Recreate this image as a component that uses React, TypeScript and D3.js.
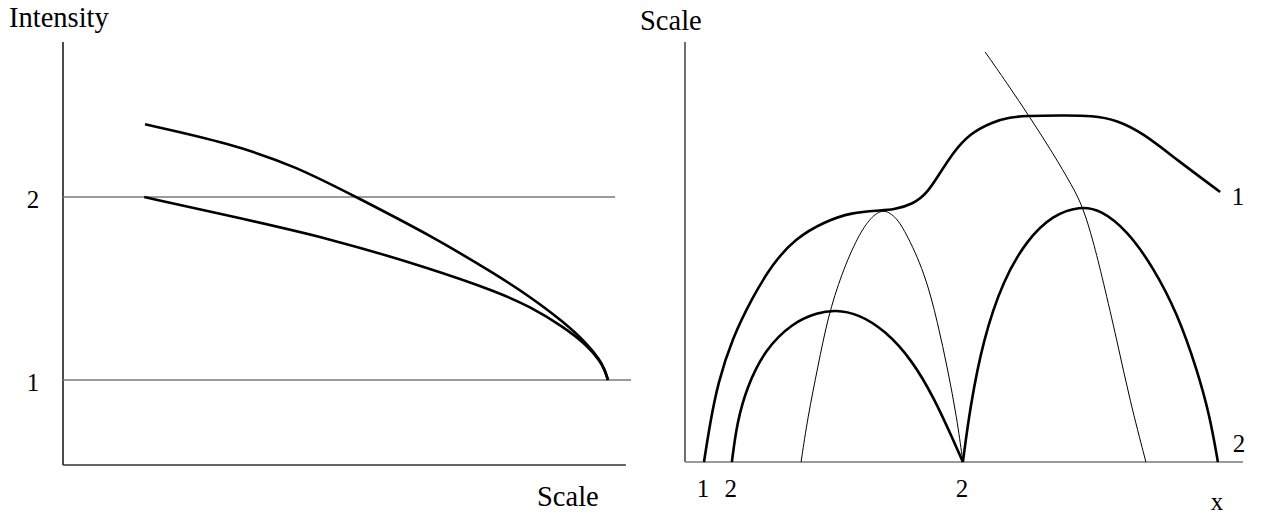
import React from "react";
import * as d3 from "d3";

const W = 1263;
const H = 516;

// ---- Left panel: intensity versus scale ----
const upperScale = [14.44, 29.4, 41.14, 51.71, 64.61, 76.36, 82.22, 88.08, 92.2, 94.54, 95.33, 95.95];
const upperIntensity = [2.397, 2.293, 2.166, 1.998, 1.792, 1.574, 1.455, 1.319, 1.201, 1.109, 1.06, 1.0];
const lowerScale = [14.3, 29.4, 47.01, 64.61, 76.36, 82.22, 88.08, 92.2, 94.54, 95.33, 95.95];
const lowerIntensity = [2.0, 1.896, 1.774, 1.61, 1.483, 1.401, 1.291, 1.191, 1.104, 1.057, 1.0];
const levelValues = [2, 1];
const levelEnds = [97.2, 100];
const levelLabels = ["2", "1"];

// ---- Right panel: scale versus x ----
const s1X = [0.34, 0.45, 0.59, 0.84, 1.2, 1.56, 1.97, 2.51, 2.99, 3.46, 3.73, 4.09, 4.34, 4.57, 4.8, 5.11, 5.52, 5.82, 6.13, 6.72, 7.31, 7.74, 8.21, 8.82, 9.59];
const s1Y = [0, 0.93, 1.88, 2.92, 3.9, 4.7, 5.32, 5.73, 5.94, 5.99, 6.0, 6.14, 6.4, 6.88, 7.36, 7.83, 8.1, 8.21, 8.24, 8.25, 8.25, 8.14, 7.83, 7.19, 6.43];

const s2aX = [0.84, 0.93, 1.11, 1.43, 1.92, 2.38, 2.69, 3.1, 3.58, 4.07, 4.48, 4.78, 4.98];
const s2aY = [0, 0.93, 1.79, 2.67, 3.31, 3.56, 3.62, 3.53, 3.14, 2.43, 1.48, 0.6, 0];
const s2bX = [4.98, 5.11, 5.34, 5.7, 6.13, 6.59, 7.08, 7.44, 7.92, 8.39, 8.82, 9.18, 9.41, 9.55];
const s2bY = [0, 1.31, 2.9, 4.33, 5.29, 5.88, 6.09, 6.01, 5.52, 4.64, 3.55, 2.19, 1.07, 0];

const thinArchX = [2.08, 2.2, 2.38, 2.56, 2.81, 3.1, 3.33, 3.55, 3.76, 3.94, 4.3, 4.53, 4.71, 4.87, 4.98];
const thinArchY = [0, 1.07, 2.26, 3.45, 4.5, 5.38, 5.83, 6.03, 5.86, 5.52, 4.5, 3.31, 2.19, 1.07, 0];
const thinFallX = [5.38, 5.77, 6.18, 6.59, 6.95, 7.13, 7.31, 7.49, 7.74, 7.97, 8.26];
const thinFallY = [9.76, 9.02, 8.21, 7.36, 6.55, 6.07, 5.29, 4.33, 2.9, 1.48, 0];

const bottomTicks = [0.34, 0.84, 4.98];
const bottomTickLabels = ["1", "2", "2"];

const FONT = '"Liberation Serif", "Times New Roman", Times, serif';

const zip = (xs: number[], ys: number[]) => xs.map((x, i) => [x, ys[i]] as [number, number]);

export default function App() {
  // left panel scales
  const xL = d3.scaleLinear().domain([0, 100]).range([63, 631]);
  const yL = d3.scaleLinear().domain([1, 2]).range([380, 197]);
  // right panel scales
  const xR = d3.scaleLinear().domain([0, 10]).range([685, 1243]);
  const yR = d3.scaleLinear().domain([0, 10]).range([462, 42]);

  const lineL = d3
    .line<[number, number]>()
    .x((d) => xL(d[0]))
    .y((d) => yL(d[1]))
    .curve(d3.curveBasis);
  const lineR = d3
    .line<[number, number]>()
    .x((d) => xR(d[0]))
    .y((d) => yR(d[1]))
    .curve(d3.curveBasis);

  const thick = { fill: "none", stroke: "#000", strokeWidth: 2.6, strokeLinejoin: "round" as const };
  const thin = { fill: "none", stroke: "#000", strokeWidth: 1 };
  const txt = { fontFamily: FONT };

  return (
    <svg
      width={W}
      height={H}
      style={{ position: "absolute", left: 0, top: 0, background: "#fff", fontFamily: FONT }}
    >
      {/* Left panel */}
      <text x={9} y={27} fontSize={28.5} style={txt}>Intensity</text>
      <line x1={xL(0)} x2={xL(0)} y1={42} y2={465} stroke="#111" strokeWidth={1.5} />
      <line x1={xL(0)} x2={xL(99.1)} y1={465} y2={465} stroke="#333" strokeWidth={1.5} />
      {levelValues.map((v, i) => (
        <g key={"lv" + i}>
          <line x1={xL(0)} x2={xL(levelEnds[i])} y1={yL(v)} y2={yL(v)} stroke="#7a7a7a" strokeWidth={1.5} />
          <text x={33} y={yL(v) + 11} fontSize={25} textAnchor="middle" style={txt}>{levelLabels[i]}</text>
        </g>
      ))}
      <path d={lineL(zip(upperScale, upperIntensity)) || ""} {...thick} />
      <path d={lineL(zip(lowerScale, lowerIntensity)) || ""} {...thick} />
      <text x={537} y={506} fontSize={28.5} style={txt}>Scale</text>

      {/* Right panel */}
      <text x={640} y={30} fontSize={28.5} style={txt}>Scale</text>
      <line x1={xR(0)} x2={xR(0)} y1={yR(10)} y2={yR(0)} stroke="#111" strokeWidth={1.2} />
      <line x1={xR(0)} x2={xR(10)} y1={yR(0)} y2={yR(0)} stroke="#7a7a7a" strokeWidth={1.5} />
      <path d={lineR(zip(thinArchX, thinArchY)) || ""} {...thin} />
      <path d={lineR(zip(thinFallX, thinFallY)) || ""} {...thin} />
      <path d={lineR(zip(s1X, s1Y)) || ""} {...thick} />
      <path d={lineR(zip(s2aX, s2aY)) || ""} {...thick} />
      <path d={lineR(zip(s2bX, s2bY)) || ""} {...thick} />
      {bottomTicks.map((t, i) => (
        <text key={"bt" + i} x={xR(t) - 1} y={497} fontSize={25} textAnchor="middle" style={txt}>
          {bottomTickLabels[i]}
        </text>
      ))}
      <text x={1217} y={510} fontSize={25} textAnchor="middle" style={txt}>x</text>
      <text x={1238} y={205} fontSize={25} textAnchor="middle" style={txt}>1</text>
      <text x={1239} y={452} fontSize={25} textAnchor="middle" style={txt}>2</text>
    </svg>
  );
}
